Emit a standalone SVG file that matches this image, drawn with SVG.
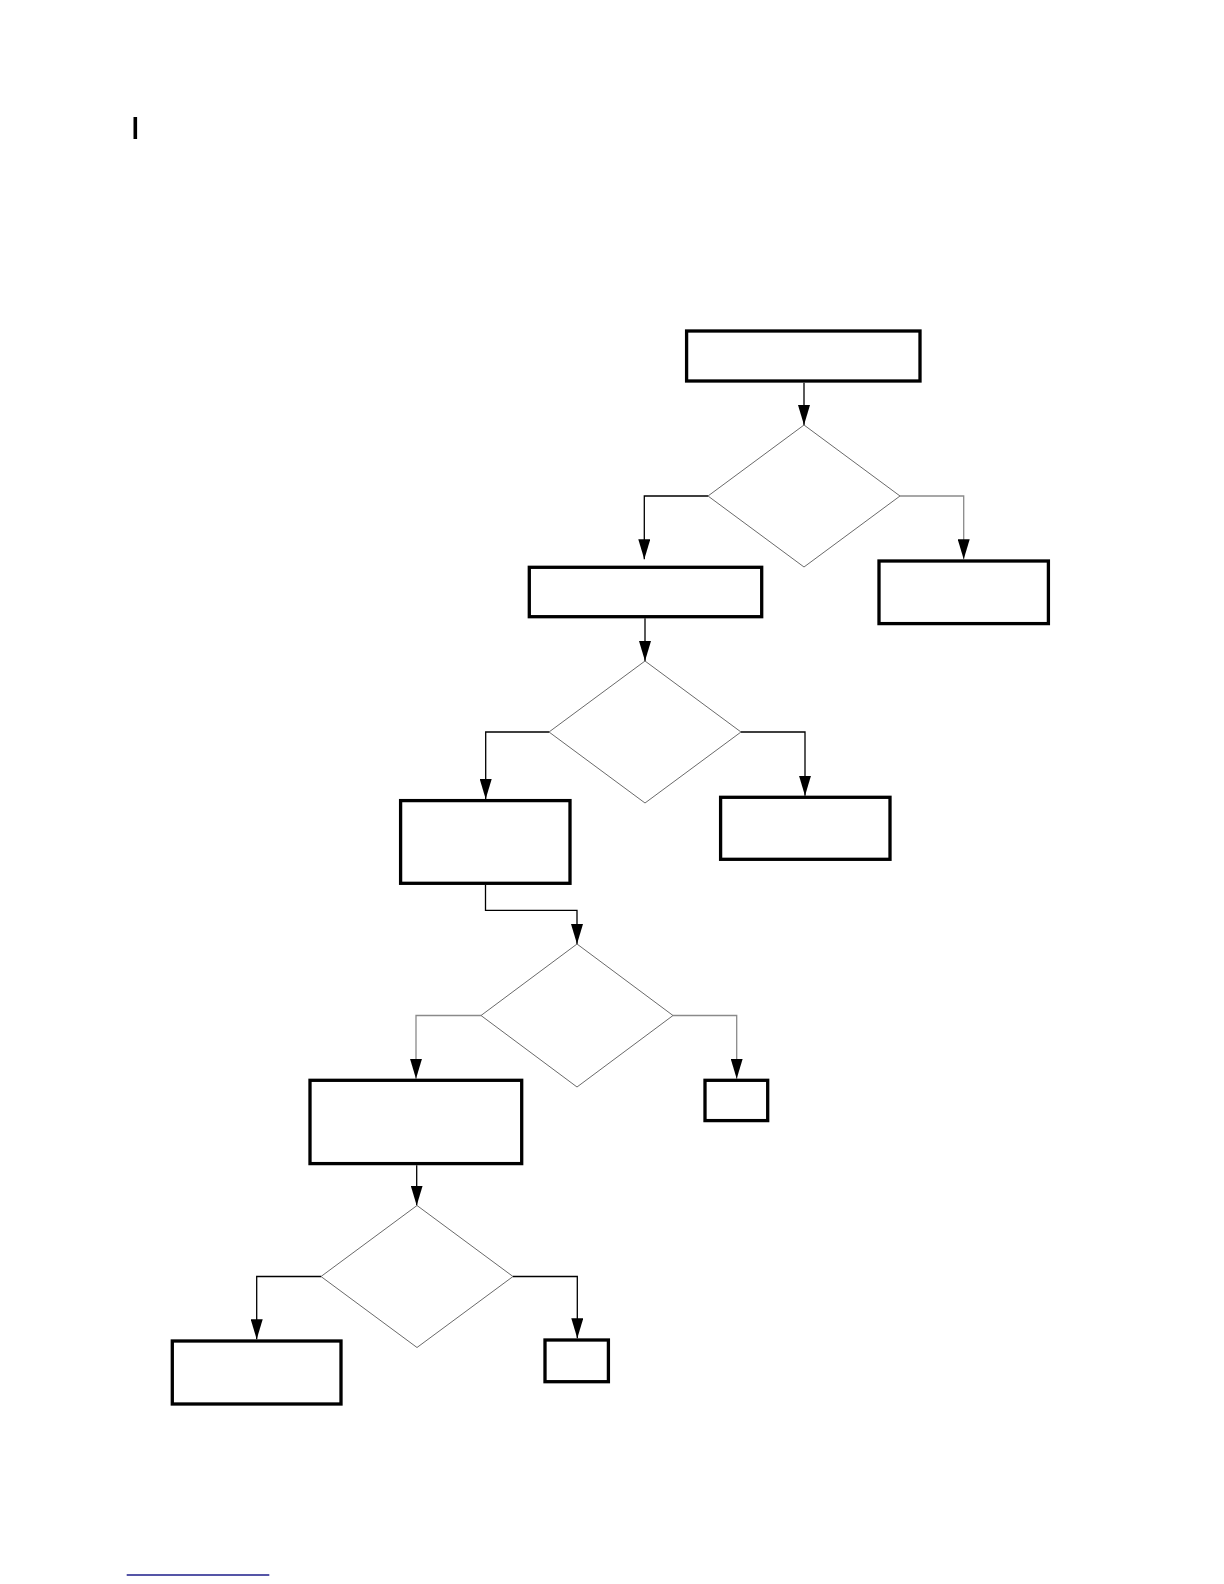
<svg xmlns="http://www.w3.org/2000/svg" width="1224" height="1584" viewBox="0 0 1224 1584">
  <style>
    .box { fill: #ffffff; stroke: #000000; stroke-width: 3.3; }
    .dec { fill: #ffffff; stroke: #6a6a6a; stroke-width: 1; }
    .con { fill: none; stroke: #000000; stroke-width: 1.3; }
    .con-g { fill: none; stroke: #8a8a8a; stroke-width: 1.3; }
  </style>
  <defs>
    <marker id="arrow" viewBox="0 0 20 12" refX="20" refY="6" markerWidth="20" markerHeight="12" markerUnits="userSpaceOnUse" orient="auto">
      <path d="M0,0 L20,6 L0,12 Z" fill="#000000"/>
    </marker>
  </defs>
  <rect width="1224" height="1584" fill="#ffffff"/>

  <rect id="mark" x="133.5" y="117" width="3.6" height="22" fill="#000000"/>

  <g id="connectors">
    <path class="con" d="M804,382.7 V425" marker-end="url(#arrow)"/>
    <path class="con" d="M708,496 H644.3 V559.3" marker-end="url(#arrow)"/>
    <path class="con-g" d="M900,496 H963.7 V559.3" marker-end="url(#arrow)"/>
    <path class="con" d="M645,618.3 V661" marker-end="url(#arrow)"/>
    <path class="con" d="M549,732 H485.7 V799" marker-end="url(#arrow)"/>
    <path class="con" d="M741,732 H805 V795.7" marker-end="url(#arrow)"/>
    <path class="con" d="M485.5,885 V910.3 H577 V944" marker-end="url(#arrow)"/>
    <path class="con-g" d="M481,1015.5 H416 V1078.7" marker-end="url(#arrow)"/>
    <path class="con-g" d="M673,1015.5 H736.7 V1078.7" marker-end="url(#arrow)"/>
    <path class="con" d="M416.7,1165.3 V1205.5" marker-end="url(#arrow)"/>
    <path class="con" d="M321,1276.5 H256.7 V1339.3" marker-end="url(#arrow)"/>
    <path class="con" d="M513,1276.5 H577.3 V1338.3" marker-end="url(#arrow)"/>
  </g>

  <g id="n1"><rect class="box" x="686.6" y="331" width="233.4" height="50"/></g>
  <g id="d1"><polygon class="dec" points="804,425 900,496 804,567 708,496"/></g>
  <g id="n2"><rect class="box" x="529.3" y="567.3" width="232.4" height="49.4"/></g>
  <g id="n3"><rect class="box" x="879" y="561" width="169.4" height="62.6"/></g>
  <g id="d2"><polygon class="dec" points="645,661 741,732 645,803 549,732"/></g>
  <g id="n4"><rect class="box" x="400.6" y="800.6" width="169.4" height="82.7"/></g>
  <g id="n5"><rect class="box" x="720.6" y="797.3" width="169.4" height="62"/></g>
  <g id="d3"><polygon class="dec" points="577,944 673,1015.5 577,1087 481,1015.5"/></g>
  <g id="n6"><rect class="box" x="310" y="1080.3" width="211.7" height="83.3"/></g>
  <g id="n7"><rect class="box" x="705" y="1080.3" width="62.7" height="40.3"/></g>
  <g id="d4"><polygon class="dec" points="417,1205.5 513,1276.5 417,1347.5 321,1276.5"/></g>
  <g id="n8"><rect class="box" x="172.3" y="1341" width="168.7" height="63"/></g>
  <g id="n9"><rect class="box" x="545" y="1340" width="63.4" height="41.7"/></g>

  <line x1="126.7" y1="1575" x2="269.3" y2="1575" stroke="#1c1c8a" stroke-width="1.4"/>
</svg>
